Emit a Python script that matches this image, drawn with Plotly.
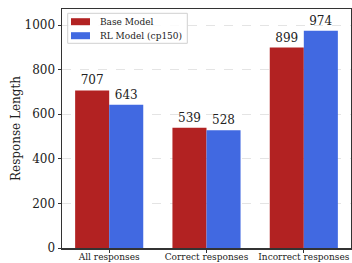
import plotly.graph_objects as go

categories = ["All responses", "Correct responses", "Incorrect responses"]
base_vals = [707, 539, 899]
rl_vals = [643, 528, 974]
series_names = ["Base Model", "RL Model (cp150)"]
colors = ["#B22222", "#4169E1"]

L, R, T, B = 62, 1, 9, 15
W, H = 352, 263
PW, PH = W - L - R, H - T - B

def fx(px):
    return (px - L) / PW

def fy(py):
    return (H - B - py) / PH

fig = go.Figure()
for name, vals, col in zip(series_names, [base_vals, rl_vals], colors):
    fig.add_trace(go.Bar(
        x=categories, y=vals, name=name, marker_color=col, marker_line_width=0,
        text=[str(v) for v in vals], textposition="outside", cliponaxis=False,
        textfont=dict(family="DejaVu Serif", size=12, color="#222"),
        showlegend=False, hoverinfo="skip",
    ))

# manual legend (matplotlib-style compact box)
shapes = [dict(type="rect", xref="paper", yref="paper",
               x0=fx(67.7), x1=fx(187.3), y0=fy(43.3), y1=fy(13.3),
               line=dict(color="#d0d0d0", width=1), fillcolor="rgba(255,255,255,0.85)", layer="above")]
annotations = []
for i, (name, col) in enumerate(zip(series_names, colors)):
    yc = 21.7 + i * 14
    shapes.append(dict(type="rect", xref="paper", yref="paper",
                       x0=fx(71), x1=fx(90), y0=fy(yc + 3.5), y1=fy(yc - 3.5),
                       line=dict(width=0), fillcolor=col, layer="above"))
    annotations.append(dict(xref="paper", yref="paper", x=fx(97.5), y=fy(yc),
                            xanchor="left", yanchor="middle", showarrow=False, text=name,
                            font=dict(family="DejaVu Serif", size=9, color="#222")))

fig.update_layout(
    width=W, height=H,
    margin=dict(l=L, r=R, t=T, b=B),
    paper_bgcolor="white", plot_bgcolor="white",
    barmode="group", bargap=0.3, bargroupgap=0,
    font=dict(family="DejaVu Serif", color="#222"),
    showlegend=False,
    shapes=shapes, annotations=annotations,
)
fig.update_xaxes(
    range=[-0.485, 2.485], showline=True, linecolor="#333", linewidth=1.5, mirror=True,
    ticks="outside", ticklen=3, tickcolor="#333", automargin=False, ticklabelstandoff=-3,
    tickfont=dict(family="DejaVu Serif", size=9), showgrid=False,
)
fig.update_yaxes(
    range=[0, 1072], showline=True, linecolor="#333", linewidth=1.5, mirror=True,
    ticks="outside", ticklen=3, tickcolor="#333", tickvals=[0, 200, 400, 600, 800, 1000],
    tickfont=dict(family="DejaVu Serif", size=12), automargin=False,
    showgrid=True, gridcolor="#ddd", griddash="dash", gridwidth=0.8,
    zeroline=False,
    title=dict(text="Response Length", font=dict(family="DejaVu Serif", size=12), standoff=1),
)
fig.write_html("out.html", config={"displayModeBar": False, "staticPlot": True},
               post_script="document.body.style.margin='0';document.body.style.overflow='hidden';")
